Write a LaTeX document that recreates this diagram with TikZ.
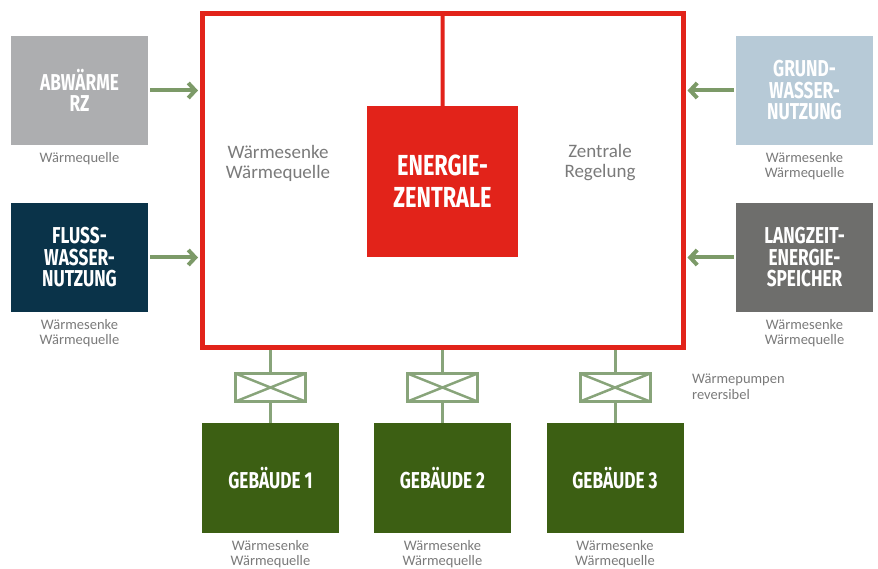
\documentclass[tikz,border=0pt]{standalone}
\usepackage{fontspec}
\usepackage{tikz}
\usetikzlibrary{arrows.meta,positioning}
\setmainfont{Carlito}
\newfontfamily\headfont[FakeStretch=0.75]{Fira Sans}
\definecolor{ezred}{HTML}{E2231A}
\definecolor{abgray}{HTML}{ADAEB0}
\definecolor{flussnavy}{HTML}{0A3349}
\definecolor{grundblue}{HTML}{B7CAD7}
\definecolor{speichergray}{HTML}{6E6E6C}
\definecolor{bldgreen}{HTML}{3C5F13}
\definecolor{arrgreen}{HTML}{7C9A68}
\definecolor{wpgreen}{HTML}{88A47A}
\definecolor{lblgray}{HTML}{7A7A7A}

\begin{document}
\begin{tikzpicture}[x=1pt,y=-1pt,
  quelle/.style={rectangle,minimum width=137pt,minimum height=109pt,inner sep=0pt,outer sep=0pt,text=white,align=center,font=\headfont\bfseries\fontsize{23}{21.5}\selectfont},
  gebaeude/.style={rectangle,fill=bldgreen,minimum width=137pt,minimum height=110pt,inner sep=0pt,outer sep=0pt,text=white,font=\headfont\bfseries\fontsize{23}{21.5}\selectfont},
  wpbox/.style={rectangle,draw=wpgreen,line width=3pt,minimum width=70pt,minimum height=28pt,inner sep=0pt,outer sep=0pt},
  lbl/.style={text=lblgray,align=center,inner sep=0pt,font=\fontsize{14.5}{15.5}\selectfont},
  biglbl/.style={text=lblgray,align=center,inner sep=0pt,font=\fontsize{19}{20}\selectfont},
  arr/.style={-{Straight Barb[length=7pt,width=15pt]},arrgreen,line width=4pt,shorten >=2pt},
  wpline/.style={wpgreen,line width=3pt}]
\useasboundingbox (0,0) rectangle (878,569);
% Energiezentrale
\node[rectangle,draw=ezred,line width=5pt,minimum width=480.5pt,minimum height=333.5pt,inner sep=0pt] (ring) at (442.75,180.75) {};
\node[rectangle,fill=ezred,minimum width=151pt,minimum height=151pt,inner sep=0pt,outer sep=0pt,text=white,align=center,font=\headfont\bfseries\fontsize{29}{32}\selectfont] (ez) at (442.5,181.5) {ENERGIE-\\ZENTRALE};
\draw[ezred,line width=4pt] (ring.north) -- (ez.north);
\node[biglbl] (senke) at (278,163) {Wärmesenke\\Wärmequelle};
\node[biglbl] (regel) at (600,163) {Zentrale\\Regelung};
% Quellen links und rechts
\node[quelle,fill=abgray] (q0) at (79.5,90.5) {ABWÄRME\\RZ};
\node[quelle,fill=flussnavy] (q1) at (79.5,257.5) {FLUSS-\\WASSER-\\NUTZUNG};
\node[quelle,fill=grundblue] (q2) at (804.5,90.5) {GRUND-\\WASSER-\\NUTZUNG};
\node[quelle,fill=speichergray] (q3) at (804.5,257.5) {LANGZEIT-\\ENERGIE-\\SPEICHER};
\node[lbl,below=7pt of q0] (l0) {Wärmequelle};
\node[lbl,below=7pt of q1] (l1) {Wärmesenke\\Wärmequelle};
\node[lbl,below=7pt of q2] (l2) {Wärmesenke\\Wärmequelle};
\node[lbl,below=7pt of q3] (l3) {Wärmesenke\\Wärmequelle};
\draw[arr] (q0.east) ++(2,0) -- (q0.east -| ring.west);
\draw[arr] (q1.east) ++(2,0) -- (q1.east -| ring.west);
\draw[arr] (q2.west) ++(-2,0) -- (q2.west -| ring.east);
\draw[arr] (q3.west) ++(-2,0) -- (q3.west -| ring.east);
% Waermepumpen und Gebaeude
\foreach \i/\x in {1/270.5,2/442.5,3/615}{
  \node[wpbox] (wp\i) at (\x,387.5) {};
  \draw[wpgreen,line width=2.5pt] (wp\i.south west) -- (wp\i.north east) (wp\i.north west) -- (wp\i.south east);
  \node[gebaeude] (g\i) at (\x,478) {GEBÄUDE \i};
  \node[lbl,below=7pt of g\i] (gl\i) {Wärmesenke\\Wärmequelle};
  \draw[wpline] (wp\i.north) -- (wp\i.north |- ring.south);
  \draw[wpline] (wp\i.south) -- (g\i.north);
}
\node[lbl,align=left,anchor=north west] (wplbl) at (692,374) {Wärmepumpen\\reversibel};
\end{tikzpicture}
\end{document}
